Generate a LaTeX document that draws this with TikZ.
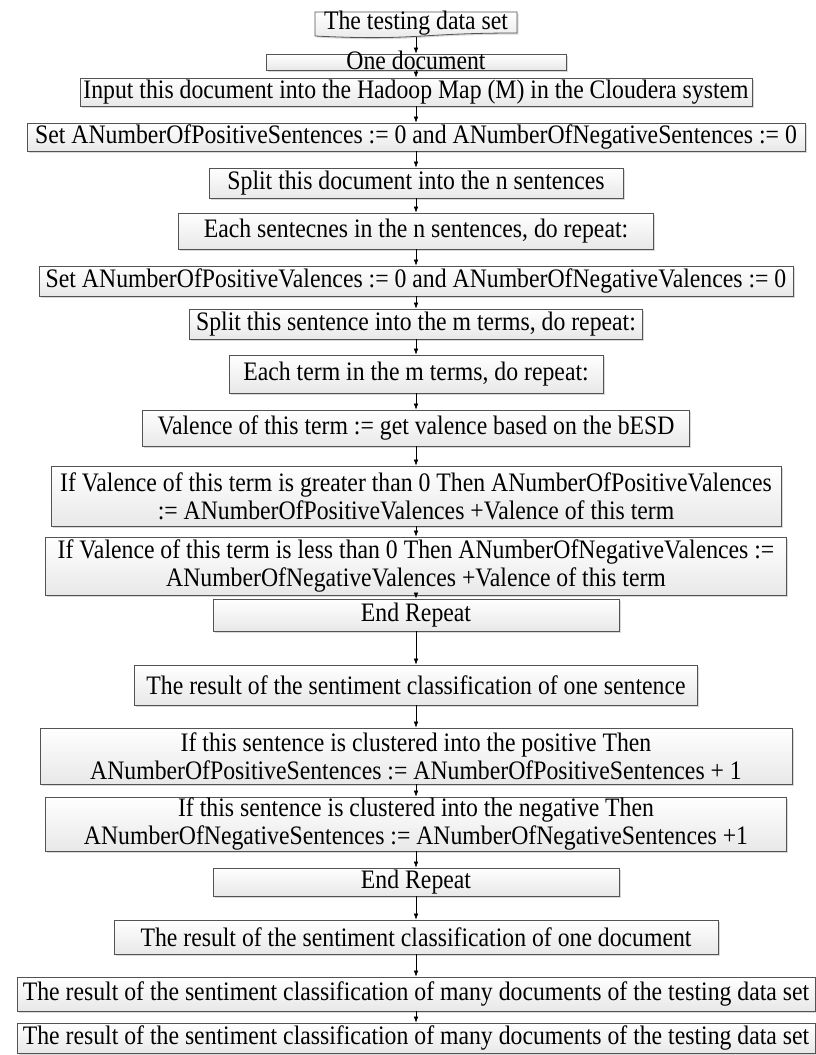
\documentclass[tikz,border=0pt]{standalone}
\usepackage{fontspec}
\setmainfont{Liberation Serif}[FakeStretch=0.89]
\usetikzlibrary{arrows.meta,shadows}
\begin{document}
\begin{tikzpicture}[x=0.75pt,y=-0.75pt,>={Latex[length=4.5pt,width=3.4pt]},
  flowbox/.style={draw=gray!65!black,line width=0.6pt,top color=white,bottom color=gray!18,
    drop shadow={shadow xshift=1.2pt,shadow yshift=-1.2pt,fill=gray!50,opacity=0.6},
    align=center,inner sep=0pt,font=\fontsize{20}{21}\selectfont},
  wh/.style 2 args={minimum width=#1*0.75pt,minimum height=#2*0.75pt}]
\useasboundingbox (0,0) rectangle (815,1055);
% the data set (document symbol)
\shade[top color=white,bottom color=gray!18,draw=gray!65!black,line width=0.6pt,
  drop shadow={shadow xshift=1.2pt,shadow yshift=-1.2pt,fill=gray!50,opacity=0.6}]
  (315,12) -- (517,12) -- (517,33) .. controls (416,33) and (416,41) .. (315,36) -- cycle;
\node[font=\fontsize{20}{21}\selectfont,inner sep=0pt] (data) at (416,23) {The testing data set};
\coordinate (dataout) at (416,37);
% one document: the text is taller than its box
\node[flowbox,wh={300}{16},text height=12pt,text depth=0pt] (onedoc) at (416,62) {One document};
\node[flowbox,wh={672}{28}] (input) at (416,92) {Input this document into the Hadoop Map (M) in the Cloudera system};
\node[flowbox,wh={778}{28}] (setsent) at (416,137) {Set ANumberOfPositiveSentences := 0 and ANumberOfNegativeSentences := 0};
\node[flowbox,wh={414}{30}] (splitdoc) at (416,183) {Split this document into the n sentences};
\node[flowbox,wh={475}{36}] (eachsent) at (416,231) {Each sentecnes in the n sentences, do repeat:};
\node[flowbox,wh={754}{30}] (setval) at (416,281) {Set ANumberOfPositiveValences := 0 and ANumberOfNegativeValences := 0};
\node[flowbox,wh={453}{30}] (splitsent) at (416,324) {Split this sentence into the m terms, do repeat:};
\node[flowbox,wh={374}{38}] (eachterm) at (416,374) {Each term in the m terms, do repeat:};
\node[flowbox,wh={547}{36}] (valence) at (416,428) {Valence of this term := get valence based on the bESD};
\node[flowbox,wh={730}{60}] (ifgreater) at (416,496) {If Valence of this term is greater than 0 Then ANumberOfPositiveValences\\:= ANumberOfPositiveValences +Valence of this term};
\node[flowbox,wh={741}{58}] (ifless) at (416,566) {If Valence of this term is less than 0 Then ANumberOfNegativeValences :=\\ANumberOfNegativeValences +Valence of this term};
\node[flowbox,wh={406}{32}] (endterm) at (416,615) {End Repeat};
\node[flowbox,wh={563}{40}] (ressent) at (416,685) {The result of the sentiment classification of one sentence};
\node[flowbox,wh={752}{56}] (ifpos) at (416,756) {If this sentence is clustered into the positive Then\\ANumberOfPositiveSentences := ANumberOfPositiveSentences + 1};
\node[flowbox,wh={741}{54}] (ifneg) at (416,824) {If this sentence is clustered into the negative Then\\ANumberOfNegativeSentences := ANumberOfNegativeSentences +1};
\node[flowbox,wh={406}{28}] (endsent) at (416,882) {End Repeat};
\node[flowbox,wh={604}{34}] (resdoc) at (416,937) {The result of the sentiment classification of one document};
\node[flowbox,wh={798}{34}] (resmany) at (416,994) {The result of the sentiment classification of many documents of the testing data set};
\node[flowbox,wh={798}{30}] (resall) at (416,1038) {The result of the sentiment classification of many documents of the testing data set};
% arrows
\draw[->] (dataout) -- (onedoc);
\draw[->] (onedoc) -- (input);
\draw[->] (input) -- (setsent);
\draw[->] (setsent) -- (splitdoc);
\draw[->] (splitdoc) -- (eachsent);
\draw[->] (eachsent) -- (setval);
\draw[->] (setval) -- (splitsent);
\draw[->] (splitsent) -- (eachterm);
\draw[->] (eachterm) -- (valence);
\draw[->] (valence) -- (ifgreater);
\draw[->] (ifgreater) -- (ifless);
\draw[->] (ifless) -- (endterm);
\draw[->] (endterm) -- (ressent);
\draw[->] (ressent) -- (ifpos);
\draw[->] (ifpos) -- (ifneg);
\draw[->] (ifneg) -- (endsent);
\draw[->] (endsent) -- (resdoc);
\draw[->] (resdoc) -- (resmany);
\draw[->] (resmany) -- (resall);
\end{tikzpicture}
\end{document}
